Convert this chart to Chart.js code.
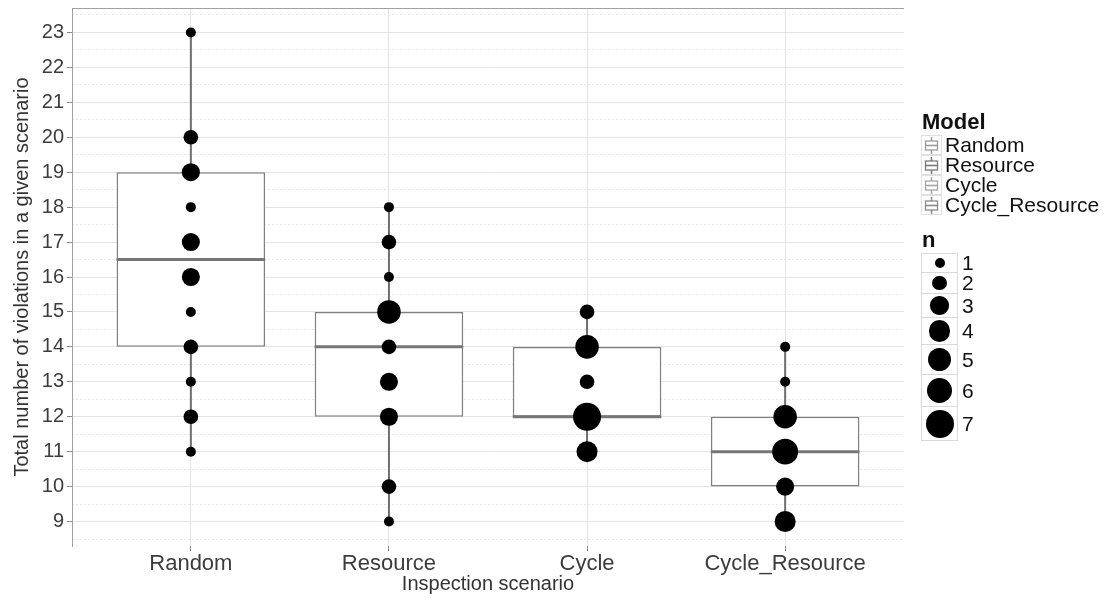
<!DOCTYPE html>
<html>
<head>
<meta charset="utf-8">
<script src="https://cdn.jsdelivr.net/npm/chart.js@4.4.0/dist/chart.umd.min.js"></script>
<style>
  body { margin: 0; background: #fff; }
  #wrap { position: relative; width: 1105px; height: 599px; }
  #legend { position: absolute; left: 0; top: 0; font-family: 'Liberation Sans', Arial, sans-serif; color: #111; }
  .ttl { position: absolute; font-weight: bold; font-size: 22px; line-height: 24px; }
  .row { position: absolute; font-size: 21px; display: flex; align-items: center; }
  .key { box-sizing: border-box; border: 1px solid #d9d9d9; display: flex; align-items: center; justify-content: center; background: #fff; }
  .dot { background: #000; border-radius: 50%; }
</style>
</head>
<body>
<div id="wrap">
  <canvas id="mycanvas" width="1105" height="599"></canvas>
  <div id="legend"></div>
</div>
<script>
var categories = ['Random', 'Resource', 'Cycle', 'Cycle_Resource'];
var yTicks = [9, 10, 11, 12, 13, 14, 15, 16, 17, 18, 19, 20, 21, 22, 23];
var yMinorTicks = [8.5, 9.5, 10.5, 11.5, 12.5, 13.5, 14.5, 15.5, 16.5, 17.5, 18.5, 19.5, 20.5, 21.5, 22.5, 23.5];

// totals seen in each scenario and how many runs gave that total
var randomValues = [11, 12, 13, 14, 15, 16, 17, 18, 19, 20, 23];
var randomCounts = [1, 2, 1, 2, 1, 3, 3, 1, 3, 2, 1];
var resourceValues = [9, 10, 12, 13, 14, 15, 16, 17, 18];
var resourceCounts = [1, 2, 3, 3, 2, 5, 1, 2, 1];
var cycleValues = [11, 12, 13, 14, 15];
var cycleCounts = [4, 7, 2, 5, 2];
var cycleResourceValues = [9, 10, 11, 12, 13, 14];
var cycleResourceCounts = [4, 3, 6, 5, 1, 1];

// box plot stats
var boxLow = [11, 9, 11, 9];
var boxQ1 = [14, 12, 12, 10];
var boxMedian = [16.5, 14, 12, 11];
var boxQ3 = [19, 15, 14, 12];
var boxHigh = [23, 18, 15, 14];

var nLevels = [1, 2, 3, 4, 5, 6, 7];

var FONT = "'Liberation Sans', Arial, sans-serif";
var BOX_HALF = 0.375;

function radius(n) { return Math.sqrt(28.5 * n - 3.5); }

var allValues = [randomValues, resourceValues, cycleValues, cycleResourceValues];
var allCounts = [randomCounts, resourceCounts, cycleCounts, cycleResourceCounts];

var datasets = [];
var points = [];
for (var c = 0; c < categories.length; c++) {
	for (var i = 0; i < allValues[c].length; i++) {
		points.push({ x: c + 1, y: allValues[c][i], r: radius(allCounts[c][i]) });
	}
}
datasets.push({ type: 'bubble', data: points, backgroundColor: '#000', borderWidth: 0, order: 0 });

for (var c = 0; c < categories.length; c++) {
	datasets.push({
		type: 'line',
		data: [{ x: c + 1 - BOX_HALF, y: boxMedian[c] }, { x: c + 1 + BOX_HALF, y: boxMedian[c] }],
		borderColor: '#767676', borderWidth: 3, pointRadius: 0, order: 1
	});
	datasets.push({
		type: 'line',
		data: [{ x: c + 1, y: boxLow[c] }, { x: c + 1, y: boxHigh[c] }],
		borderColor: '#6e6e6e', borderWidth: 2, pointRadius: 0, order: 3
	});
}

var boxes = [];
for (var c = 0; c < categories.length; c++) {
	boxes.push({ x: c + 1, y: [boxQ1[c], boxQ3[c]] });
}
datasets.push({
	type: 'bar', data: boxes, backgroundColor: '#fff', borderColor: '#808080',
	borderWidth: 1.6, borderSkipped: false, barPercentage: 0.75, categoryPercentage: 1, order: 2
});

var panelBorder = {
	id: 'panelBorder',
	afterDraw: function(chart) {
		var a = chart.chartArea, ctx = chart.ctx;
		ctx.save();
		ctx.strokeStyle = '#a0a0a0';
		ctx.lineWidth = 1;
		ctx.beginPath();
		ctx.moveTo(a.left, a.top + 0.5);
		ctx.lineTo(a.right, a.top + 0.5);
		ctx.stroke();
		ctx.restore();
	}
};

var ctx = document.getElementById('mycanvas');
var chart = new Chart(ctx, {
	data: { datasets: datasets },
	plugins: [panelBorder],
	options: {
		responsive: false,
		animation: false,
		events: [],
		layout: { autoPadding: false, padding: { top: 8, right: 201, left: 0, bottom: 0 } },
		plugins: { legend: { display: false }, tooltip: { enabled: false } },
		scales: {
			x: {
				type: 'linear', min: 0.4, max: 4.6, offset: false,
				afterBuildTicks: function(s) { s.ticks = categories.map(function(n, i) { return { value: i + 1 }; }); },
				afterFit: function(s) { s.height = 53; },
				ticks: {
					callback: function(v) { return categories[v - 1]; },
					font: { family: FONT, size: 22 }, color: '#3c3c3c', padding: 0, maxRotation: 0, autoSkip: false
				},
				grid: { offset: false, color: '#e4e4e4', tickColor: '#8a8a8a', tickLength: 5 },
				border: { display: false },
				title: { display: true, text: 'Inspection scenario', font: { family: FONT, size: 20 }, color: '#333', padding: { top: 0, bottom: 3 } }
			},
			y: {
				type: 'linear', min: 8.3, max: 23.7,
				afterBuildTicks: function(s) { s.ticks = yTicks.map(function(v) { return { value: v }; }); },
				afterFit: function(s) { s.width = 72; s.paddingTop = 0; s.paddingBottom = 0; },
				ticks: { font: { family: FONT, size: 20 }, color: '#3c3c3c', padding: 3 },
				grid: { color: '#e4e4e4', tickColor: '#8a8a8a', tickLength: 5 },
				border: { display: true, color: '#a0a0a0', width: 1 },
				title: { display: true, text: 'Total number of violations in a given scenario', font: { family: FONT, size: 20 }, color: '#333', padding: { top: 10, bottom: 0 } }
			},
			yMinor: {
				type: 'linear', position: 'left', min: 8.3, max: 23.7,
				afterBuildTicks: function(s) { s.ticks = yMinorTicks.map(function(v) { return { value: v }; }); },
				afterFit: function(s) { s.width = 0; s.paddingTop = 0; s.paddingBottom = 0; },
				ticks: { display: false },
				grid: { color: '#e8e8e8', drawTicks: false, lineWidth: 1 },
				border: { display: false, dash: [2, 2] }
			}
		}
	}
});

// legend
var leg = document.getElementById('legend');
function add(html) { leg.insertAdjacentHTML('beforeend', html); }
add('<div class="ttl" style="left:922px;top:110px">Model</div>');
var modelShade = ['#9a9a9a', '#7a7a7a', '#a6a6a6', '#8a8a8a'];
for (var i = 0; i < categories.length; i++) {
	var rowY = 135 + i * 20;
	var icon = '<svg width="19" height="19"><line x1="9.5" y1="1" x2="9.5" y2="18" stroke="' + modelShade[i] + '" stroke-width="1.5"/>' +
		'<rect x="3.5" y="5" width="12" height="9" fill="#fff" stroke="' + modelShade[i] + '" stroke-width="1.3"/>' +
		'<line x1="3.5" y1="9.5" x2="15.5" y2="9.5" stroke="' + modelShade[i] + '" stroke-width="1.6"/></svg>';
	add('<div class="row" style="left:921px;top:' + rowY + 'px;height:20px">' +
		'<div class="key" style="width:21px;height:20px;border-color:#e0e0e0">' + icon + '</div>' +
		'<span style="margin-left:3px;line-height:20px">' + categories[i] + '</span></div>');
}
add('<div class="ttl" style="left:922px;top:228px">n</div>');
var rowTop = 253;
for (var i = 0; i < nLevels.length; i++) {
	var r = radius(nLevels[i]);
	var h = Math.max(20, Math.round(2 * r + 7));
	add('<div class="row" style="left:921px;top:' + rowTop + 'px;height:' + h + 'px">' +
		'<div class="key" style="width:37px;height:' + h + 'px"><div class="dot" style="width:' + (2 * r) + 'px;height:' + (2 * r) + 'px"></div></div>' +
		'<span style="margin-left:4px">' + nLevels[i] + '</span></div>');
	rowTop += h - 1;
}
</script>
</body>
</html>
